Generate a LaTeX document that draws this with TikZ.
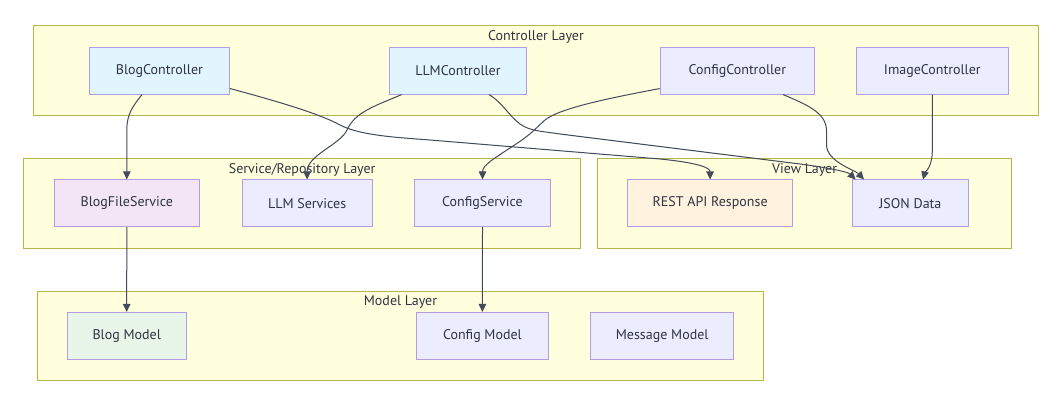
\documentclass[tikz,border=0pt]{standalone}
\usepackage{fontspec}
\setmainfont{PT Sans}
\usetikzlibrary{arrows.meta}
\definecolor{clfill}{HTML}{FFFFDE}
\definecolor{clstroke}{HTML}{B5B54A}
\definecolor{ndfill}{HTML}{ECECFF}
\definecolor{ndstroke}{HTML}{B29DE4}
\definecolor{cyanfill}{HTML}{E1F5FE}
\definecolor{purpfill}{HTML}{F3E5F5}
\definecolor{orgfill}{HTML}{FFF3E0}
\definecolor{grnfill}{HTML}{E8F5E9}
\definecolor{edgecol}{HTML}{414B5A}
\definecolor{txt}{HTML}{2F3440}
\begin{document}
\begin{tikzpicture}[x=1pt,y=-1pt,
  cluster/.style={draw=clstroke, fill=clfill, line width=1pt, inner sep=0pt},
  title/.style={text=txt, font=\fontsize{14}{16}\selectfont, inner sep=0pt},
  box/.style={draw=ndstroke, fill=ndfill, line width=1pt, inner sep=0pt, minimum height=46.7pt, text=txt, font=\fontsize{14}{16}\selectfont},
  arr/.style={draw=edgecol, line width=1pt, -{Triangle[length=8pt,width=7.5pt]}}
]
\useasboundingbox (0,0) rectangle (1059,406);
\fill[white] (0,0) rectangle (1059,406);

% clusters
\node[cluster, minimum width=1004.9pt, minimum height=89.6pt] (ctrl) at (535.95,70.5) {};
\node[cluster, minimum width=556.9pt, minimum height=90pt] (svc) at (302.15,203.3) {};
\node[cluster, minimum width=414.3pt, minimum height=90pt] (view) at (804.65,203.3) {};
\node[cluster, minimum width=726.6pt, minimum height=89.7pt] (model) at (400.5,335.85) {};

\node[title] (ctrlT) at (535.95,36.5) {Controller Layer};
\node[title] (svcT) at (302.15,169.5) {Service/Repository Layer};
\node[title] (viewT) at (804.65,170) {View Layer};
\node[title] (modelT) at (400.5,302.5) {Model Layer};

% controller nodes
\node[box, fill=cyanfill, minimum width=140.3pt] (bc) at (159.4,70.7) {BlogController};
\node[box, fill=cyanfill, minimum width=137.6pt] (llmc) at (457.9,70.7) {LLMController};
\node[box, minimum width=154.2pt] (cc) at (737.3,70.7) {ConfigController};
\node[box, minimum width=152.2pt] (ic) at (932.3,70.7) {ImageController};

% service nodes
\node[box, fill=purpfill, minimum width=145.4pt] (bfs) at (126.8,203.3) {BlogFileService};
\node[box, minimum width=130.2pt] (llms) at (307.1,203.3) {LLM Services};
\node[box, minimum width=135.4pt] (cs) at (482.5,203.3) {ConfigService};

% view nodes
\node[box, fill=orgfill, minimum width=165.3pt] (rest) at (710.1,203.3) {REST API Response};
\node[box, minimum width=116.4pt] (json) at (910.4,203.3) {JSON Data};

% model nodes
\node[box, fill=grnfill, minimum width=118.9pt] (bm) at (126.7,335.8) {Blog Model};
\node[box, minimum width=132.2pt] (cm) at (482.4,335.8) {Config Model};
\node[box, minimum width=142.9pt] (mm) at (662.2,335.8) {Message Model};

% edges
\draw[arr] ([xshift=-17.4pt]bc.south) .. controls (133,106) and (126.8,114) .. (126.8,130) -- (bfs.north);
\draw[arr] ([yshift=6pt]bc.south east) .. controls (280,102) and (320,114) .. (340,125)
  .. controls (360,135) and (390,137) .. (430,140) -- (660,159)
  .. controls (700,163) and (710.1,168) .. (rest.north);
\draw[arr] ([xshift=-56.2pt]llmc.south) .. controls (375,106) and (355,112) .. (347,130)
  .. controls (340,145) and (307.1,155) .. (llms.north);
\draw[arr] ([xshift=31.1pt]llmc.south) .. controls (503,103) and (508,115) .. (520,124)
  .. controls (530,131) and (540,131) .. (560,134) -- (800,164)
  .. controls (830,168) and (848,172) .. ([xshift=-54.8pt]json.north);
\draw[arr] ([yshift=6pt]cc.south west) .. controls (610,98) and (560,108) .. (545,120)
  .. controls (532,132) and (530,135) .. (513,146)
  .. controls (495,158) and (482.5,165) .. (cs.north);
\draw[arr] ([xshift=45.7pt]cc.south) .. controls (805,104) and (826,112) .. (826.5,130) -- (826.5,145)
  .. controls (827,162) and (855,170) .. ([xshift=-46.4pt]json.north);
\draw[arr] (ic.south) -- (932.3,150) .. controls (932.3,168) and (925,172) .. ([xshift=12.6pt]json.north);
\draw[arr] (bfs.south) -- (bm.north);
\draw[arr] (cs.south) -- (cm.north);
\end{tikzpicture}
\end{document}
